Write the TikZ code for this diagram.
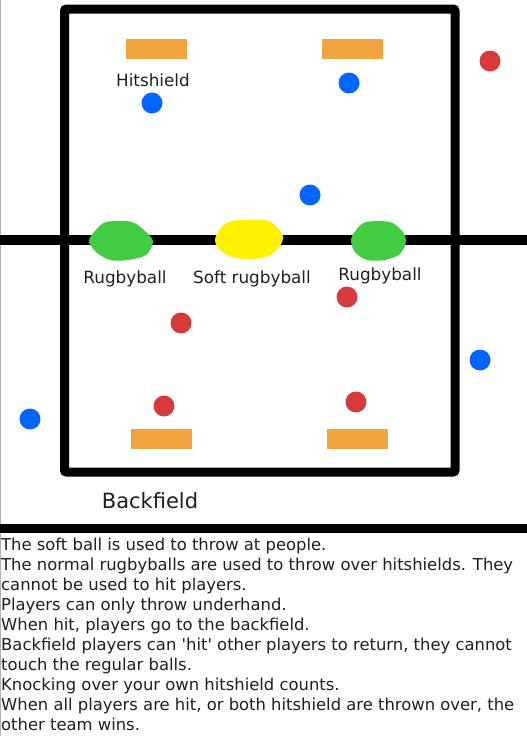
\documentclass[tikz,border=0pt]{standalone}
\usepackage{fontspec}
\setmainfont{DejaVu Sans}
\usepackage{tikz}
\usetikzlibrary{positioning}
\usepackage{xcolor}

\definecolor{teamblue}{RGB}{0,102,255}
\definecolor{teamred}{RGB}{214,58,58}
\definecolor{shieldorange}{RGB}{242,164,63}
\definecolor{ballgreen}{RGB}{65,204,65}
\definecolor{ballyellow}{RGB}{255,242,0}

\begin{document}
\begin{tikzpicture}[
    x=1pt, y=-1pt,
    player/.style={circle, inner sep=0pt, minimum size=21pt},
    blueteam/.style={player, fill=teamblue},
    redteam/.style={player, fill=teamred},
    shield/.style={rectangle, fill=shieldorange, inner sep=0pt, minimum width=61pt, minimum height=20pt},
    fieldlabel/.style={font=\fontsize{16.8}{20}\selectfont, text=black!88, inner sep=0pt, anchor=base},
    border/.style={line width=9pt},
    rules/.style={font=\fontsize{16.4}{20}\selectfont, text=black!88, align=left, inner sep=0pt, anchor=north west},
  ]
  \useasboundingbox (0,0) rectangle (527,736);
  \draw[gray!60, line width=1pt] (0.5,0) -- (0.5,736);

  % Field and lines
  \draw[border, rounded corners=2pt] (64.5,9) rectangle (455,472);
  \draw[line width=10pt] (0,240) -- (527,240);
  \draw[border] (0,528) -- (527,528);

  % Balls on the middle line
  \fill[ballgreen] plot[smooth cycle, tension=0.5] coordinates {(106,222) (132,222) (147,233) (153,242) (146,255) (128,260) (110,260) (96,252) (89,241) (95,231)};
  \fill[ballyellow] plot[smooth cycle, tension=0.5] coordinates {(232,221) (265,220) (278,228) (283,238) (277,250) (262,258) (235,258) (220,250) (215,240) (220,229)};
  \fill[ballgreen] plot[smooth cycle, tension=0.5] coordinates {(366,222) (390,222) (402,231) (406,241) (400,254) (385,260) (367,260) (355,252) (351,240) (356,230)};

  % Hitshields
  \node[shield] (shieldTL) at (156.5,49) {};
  \node[shield] (shieldTR) at (352.5,49) {};
  \node[shield] (shieldBL) at (161.5,439) {};
  \node[shield] (shieldBR) at (357.5,439) {};

  % Blue team
  \node[blueteam] (blueA) at (152,103) {};
  \node[blueteam] (blueB) at (349,83) {};
  \node[blueteam] (blueC) at (310,195) {};
  \node[blueteam] (blueD) at (480,360) {};
  \node[blueteam] (blueE) at (30,419) {};

  % Red team
  \node[redteam] (redA) at (490,61) {};
  \node[redteam] (redB) at (181,323) {};
  \node[redteam] (redC) at (347,297) {};
  \node[redteam] (redD) at (164,406) {};
  \node[redteam] (redE) at (356,402) {};

  % Labels
  \node[fieldlabel] (hitshield) at (153,86.5) {Hitshield};
  \node[fieldlabel] (rugbyL) at (125,283) {Rugbyball};
  \node[fieldlabel] (softball) at (252,283) {Soft rugbyball};
  \node[fieldlabel] (rugbyR) at (380,280) {Rugbyball};
  \node[fieldlabel, font=\fontsize{21}{24}\selectfont] (backfield) at (150,508) {Backfield};

  % Rules
  \node[rules] (rulestext) at (1,537.5) {The soft ball is used to throw at people.\\
    The normal rugbyballs are used to throw over hitshields. They\\
    cannot be used to hit players.\\
    Players can only throw underhand.\\
    When hit, players go to the backfield.\\
    Backfield players can \textquotesingle hit\textquotesingle{} other players to return, they cannot\\
    touch the regular balls.\\
    Knocking over your own hitshield counts.\\
    When all players are hit, or both hitshield are thrown over, the\\
    other team wins.};
\end{tikzpicture}
\end{document}
